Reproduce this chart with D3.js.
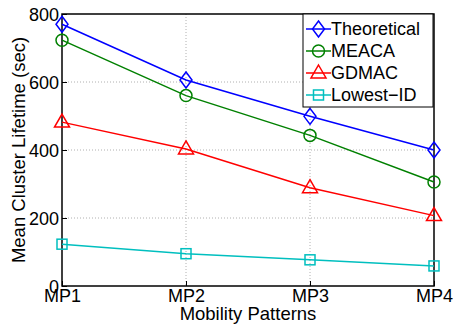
<!DOCTYPE html>
<html>
<head>
<meta charset="utf-8">
<script src="https://cdn.jsdelivr.net/npm/d3@7"></script>
<style>
  body { margin: 0; background: #fff; }
  svg text { font-family: "Liberation Sans", Arial, sans-serif; fill: #000; }
</style>
</head>
<body>
<div id="chart"></div>
<script>
// data
const patterns = ["MP1", "MP2", "MP3", "MP4"];
const yTicks = [0, 200, 400, 600, 800];
const theoretical = [770, 606, 499, 400];
const meaca = [723, 560, 443, 306];
const gdmac = [482, 403, 289, 207];
const lowestId = [123, 95, 77, 59];

const seriesList = [
    { name: "Theoretical", values: theoretical, color: "#0000ff", marker: "diamond" },
    { name: "MEACA", values: meaca, color: "#008000", marker: "circle" },
    { name: "GDMAC", values: gdmac, color: "#ff0000", marker: "triangle" },
    { name: "Lowest\u2212ID", values: lowestId, color: "#00bfbf", marker: "square" }
];

const W = 456, H = 324;
const margin = { top: 14, right: 22, bottom: 38, left: 62 },
    width = W - margin.left - margin.right,
    height = H - margin.top - margin.bottom;

const svg = d3.select("#chart")
    .append("svg")
    .attr("width", W)
    .attr("height", H);

const g = svg.append("g")
    .attr("transform", `translate(${margin.left},${margin.top})`);

const x = d3.scalePoint()
    .domain(patterns)
    .range([0, width]);

const y = d3.scaleLinear()
    .domain([0, 800])
    .range([height, 0]);

// dotted grid
g.append("g")
    .selectAll("line")
    .data(yTicks.slice(1, -1))
    .enter()
    .append("line")
    .attr("x1", 0).attr("x2", width)
    .attr("y1", d => y(d)).attr("y2", d => y(d))
    .attr("stroke", "#b0b0b0")
    .attr("stroke-width", 1)
    .attr("stroke-dasharray", "1,2");

g.append("g")
    .selectAll("line")
    .data(patterns.slice(1, -1))
    .enter()
    .append("line")
    .attr("x1", d => x(d)).attr("x2", d => x(d))
    .attr("y1", 0).attr("y2", height)
    .attr("stroke", "#b0b0b0")
    .attr("stroke-width", 1)
    .attr("stroke-dasharray", "1,2");

// axes
const yAxis = g.append("g")
    .call(d3.axisLeft(y).tickValues(yTicks).tickSize(-5).tickPadding(3))
    .call(a => a.select(".domain").remove());
yAxis.selectAll("line").attr("stroke", "#000");
yAxis.selectAll("text")
    .style("font-size", "18px")
    .attr("dy", "0.35em");

const xAxis = g.append("g")
    .attr("transform", `translate(0,${height})`)
    .call(d3.axisBottom(x).tickSize(-5).tickPadding(2))
    .call(a => a.select(".domain").remove());
xAxis.selectAll("line").attr("stroke", "#000");
xAxis.selectAll("text")
    .style("font-size", "18px")
    .attr("dy", "0.75em");

// plot box
g.append("rect")
    .attr("x", 0).attr("y", 0)
    .attr("width", width).attr("height", height)
    .attr("fill", "none")
    .attr("stroke", "#000")
    .attr("stroke-width", 1.5);

// axis labels
svg.append("text")
    .attr("x", margin.left + width / 2)
    .attr("y", H - 4)
    .attr("text-anchor", "middle")
    .style("font-size", "18.5px")
    .text("Mobility Patterns");

svg.append("text")
    .attr("transform", `translate(25,${margin.top + height / 2}) rotate(-90)`)
    .attr("text-anchor", "middle")
    .style("font-size", "18.5px")
    .text("Mean Cluster Lifetime (sec)");

// markers
function drawMarker(sel, type, color) {
    if (type === "diamond") {
        sel.append("path").attr("d", "M0,-8L6,0L0,8L-6,0Z");
    } else if (type === "circle") {
        sel.append("circle").attr("r", 6);
    } else if (type === "triangle") {
        sel.append("path").attr("d", "M0,-8L7.5,5L-7.5,5Z");
    } else {
        sel.append("rect").attr("x", -5).attr("y", -5).attr("width", 10).attr("height", 10);
    }
    sel.selectAll("*")
        .attr("fill", "none")
        .attr("stroke", color)
        .attr("stroke-width", 1.5);
}

const line = d3.line()
    .x((d, i) => x(patterns[i]))
    .y(d => y(d));

seriesList.forEach(s => {
    g.append("path")
        .datum(s.values)
        .attr("d", line)
        .attr("fill", "none")
        .attr("stroke", s.color)
        .attr("stroke-width", 1.5);

    g.selectAll(null)
        .data(s.values)
        .enter()
        .append("g")
        .attr("transform", (d, i) => `translate(${x(patterns[i])},${y(d)})`)
        .each(function () { drawMarker(d3.select(this), s.marker, s.color); });
});

// legend
const legend = svg.append("g")
    .attr("transform", "translate(303,14)");

legend.append("rect")
    .attr("width", 130)
    .attr("height", 93)
    .attr("fill", "#fff")
    .attr("stroke", "#000")
    .attr("stroke-width", 1);

const item = legend.selectAll(".item")
    .data(seriesList)
    .enter()
    .append("g")
    .attr("class", "item")
    .attr("transform", (d, i) => `translate(0,${15 + i * 22})`);

item.append("line")
    .attr("x1", 3).attr("x2", 28)
    .attr("stroke", d => d.color)
    .attr("stroke-width", 1.5);

item.append("g")
    .attr("transform", "translate(15.5,0)")
    .each(function (d) { drawMarker(d3.select(this), d.marker, d.color); });

item.append("text")
    .attr("x", 28)
    .attr("dy", "0.35em")
    .style("font-size", "18px")
    .text(d => d.name);
</script>
</body>
</html>
